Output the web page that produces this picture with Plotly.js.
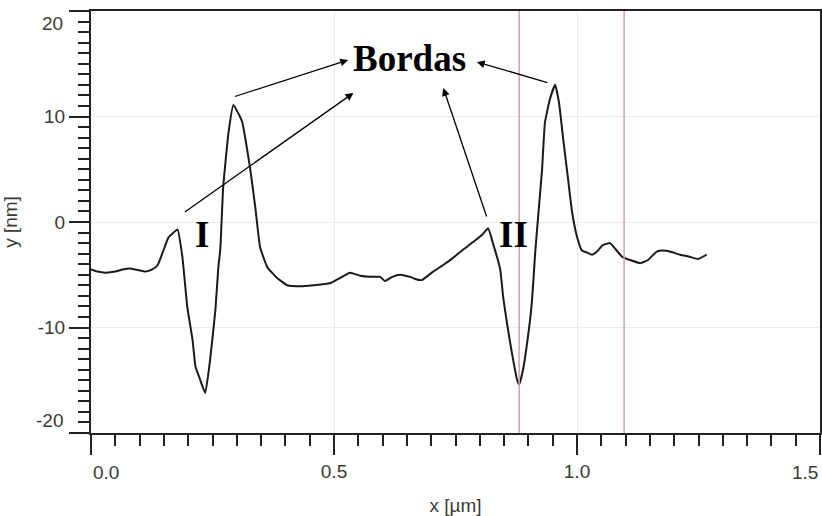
<!DOCTYPE html>
<html>
<head>
<meta charset="utf-8">
<script src="https://cdn.plot.ly/plotly-3.0.1.min.js"></script>
<style>html,body{margin:0;padding:0;background:#fff;}#chart{width:822px;height:516px;}</style>
</head>
<body>
<div id="chart"></div>
<script>
// Profile data (x in µm, y in nm)
var profileX = [0.000,0.013,0.030,0.050,0.065,0.081,0.091,0.112,0.126,0.137,0.149,0.159,0.170,0.178,0.188,0.198,0.209,0.215,0.225,0.235,0.245,0.256,0.262,0.266,0.272,0.283,0.293,0.303,0.311,0.318,0.328,0.338,0.348,0.363,0.383,0.404,0.431,0.457,0.492,0.513,0.533,0.554,0.574,0.595,0.605,0.620,0.636,0.657,0.667,0.681,0.704,0.724,0.745,0.766,0.786,0.805,0.817,0.827,0.842,0.848,0.856,0.866,0.877,0.881,0.889,0.899,0.907,0.914,0.920,0.928,0.934,0.944,0.955,0.963,0.971,0.981,0.990,1.000,1.010,1.021,1.031,1.041,1.053,1.068,1.078,1.093,1.109,1.130,1.146,1.164,1.177,1.191,1.212,1.232,1.249,1.267];
var profileY = [-4.5,-4.7,-4.8,-4.7,-4.5,-4.4,-4.5,-4.7,-4.5,-4.1,-2.7,-1.5,-1.0,-0.7,-3.3,-8.0,-11.2,-13.7,-15.0,-16.2,-13.1,-8.3,-4.3,-2.6,3.3,8.5,11.1,10.3,9.5,7.8,4.9,1.4,-2.4,-4.3,-5.3,-6.0,-6.1,-6.0,-5.8,-5.3,-4.8,-5.1,-5.2,-5.2,-5.6,-5.2,-5.0,-5.2,-5.4,-5.5,-4.7,-4.1,-3.4,-2.6,-1.9,-1.2,-0.6,-2.0,-4.5,-7.1,-9.6,-12.4,-15.0,-15.4,-14.0,-10.9,-7.7,-2.9,0.5,4.9,9.4,11.6,13.0,11.3,8.1,4.3,0.9,-1.4,-2.7,-2.9,-3.1,-2.8,-2.2,-2.0,-2.5,-3.3,-3.6,-3.9,-3.6,-2.8,-2.7,-2.8,-3.1,-3.3,-3.5,-3.1];

// Cursor line positions (µm)
var cursorX = [0.881, 1.097];

// Tick values / labels
var xTickVals = [0, 0.5, 1.0, 1.5];
var xTickText = ['', '0.5', '1.0', ''];
var yTickVals = [-20, -10, 0, 10, 20];
var yTickText = ['', '-10', '0', '10', ''];
var xEdgeLabels = [{v: 0, t: '0.0'}, {v: 1.5, t: '1.5'}];
var yEdgeLabels = [{v: 20, t: '20'}, {v: -20, t: '-20'}];

// Text labels and arrows (data coordinates)
var labelText = ['Bordas', 'I', 'II'];
var labelX = [0.656, 0.229, 0.870];
var labelY = [15.5, -1.2, -1.2];
var arrowHeadX = [0.529, 0.540, 0.725, 0.794];
var arrowHeadY = [15.36, 12.23, 12.7, 15.17];
var arrowTailX = [0.293, 0.190, 0.815, 0.942];
var arrowTailY = [11.85, 0.85, 0.38, 13.18];

var tickFont = {family: 'Liberation Sans, Arial, sans-serif', size: 19, color: '#3a3a3a'};

var annotations = [];
for (var i = 0; i < labelText.length; i++) {
  annotations.push({x: labelX[i], y: labelY[i], xref: 'x', yref: 'y', text: '<b>' + labelText[i] + '</b>',
    showarrow: false, font: {family: 'Liberation Serif, Times New Roman, serif', size: 37, color: '#000'}});
}
for (var j = 0; j < arrowHeadX.length; j++) {
  annotations.push({x: arrowHeadX[j], y: arrowHeadY[j], xref: 'x', yref: 'y', ax: arrowTailX[j], ay: arrowTailY[j],
    axref: 'x', ayref: 'y', text: '', showarrow: true, arrowhead: 2, arrowsize: 1.2, arrowwidth: 1.3, arrowcolor: '#000', standoff: 0});
}
xEdgeLabels.forEach(function (e, k) {
  annotations.push({x: e.v, y: 0, xref: 'x', yref: 'paper', text: e.t, showarrow: false, font: tickFont,
    xanchor: k === 0 ? 'left' : 'right', yanchor: 'top', yshift: -27});
});
yEdgeLabels.forEach(function (e, k) {
  annotations.push({x: 0, y: e.v, xref: 'paper', yref: 'y', text: e.t, showarrow: false, font: tickFont,
    xanchor: 'right', yanchor: k === 0 ? 'top' : 'bottom', xshift: -26, yshift: k === 0 ? 0 : 0});
});

var shapes = cursorX.map(function (cx) {
  return {type: 'line', xref: 'x', yref: 'paper', x0: cx, x1: cx, y0: 0, y1: 1, line: {color: '#d4a0aa', width: 1.5}};
});

var trace = {x: profileX, y: profileY, type: 'scatter', mode: 'lines', line: {color: '#1a1a1a', width: 2, shape: 'spline', smoothing: 0.4}, hoverinfo: 'skip'};

var layout = {
  width: 822, height: 516,
  margin: {l: 91, r: 2, t: 11, b: 83},
  paper_bgcolor: '#fff', plot_bgcolor: '#fff',
  showlegend: false,
  xaxis: {
    range: [0, 1.5], tickmode: 'array', tickvals: xTickVals, ticktext: xTickText,
    ticks: 'outside', ticklen: 20, tickwidth: 2, tickcolor: '#222',
    showline: true, linecolor: '#222', linewidth: 2, mirror: true,
    showgrid: true, gridcolor: '#eeeaea', gridwidth: 1, zeroline: false,
    tickfont: tickFont,
    minor: {tickmode: 'linear', tick0: 0, dtick: 0.05, ticks: 'outside', ticklen: 11, tickwidth: 2, tickcolor: '#222', showgrid: false},
    title: {text: 'x [µm]', font: tickFont, standoff: 18}
  },
  yaxis: {
    range: [-20, 20], tickmode: 'array', tickvals: yTickVals, ticktext: yTickText,
    ticks: 'outside', ticklen: 20, tickwidth: 2, tickcolor: '#222',
    showline: true, linecolor: '#222', linewidth: 2, mirror: true,
    showgrid: true, gridcolor: '#eeeaea', gridwidth: 1, zeroline: false,
    tickfont: tickFont,
    minor: {tickmode: 'linear', tick0: 0, dtick: 1, ticks: 'outside', ticklen: 11, tickwidth: 2, tickcolor: '#222', showgrid: false},
    title: {text: 'y [nm]', font: tickFont, standoff: 16}
  },
  shapes: shapes,
  annotations: annotations
};

Plotly.newPlot('chart', [trace], layout, {staticPlot: true, displayModeBar: false});
</script>
</body>
</html>
